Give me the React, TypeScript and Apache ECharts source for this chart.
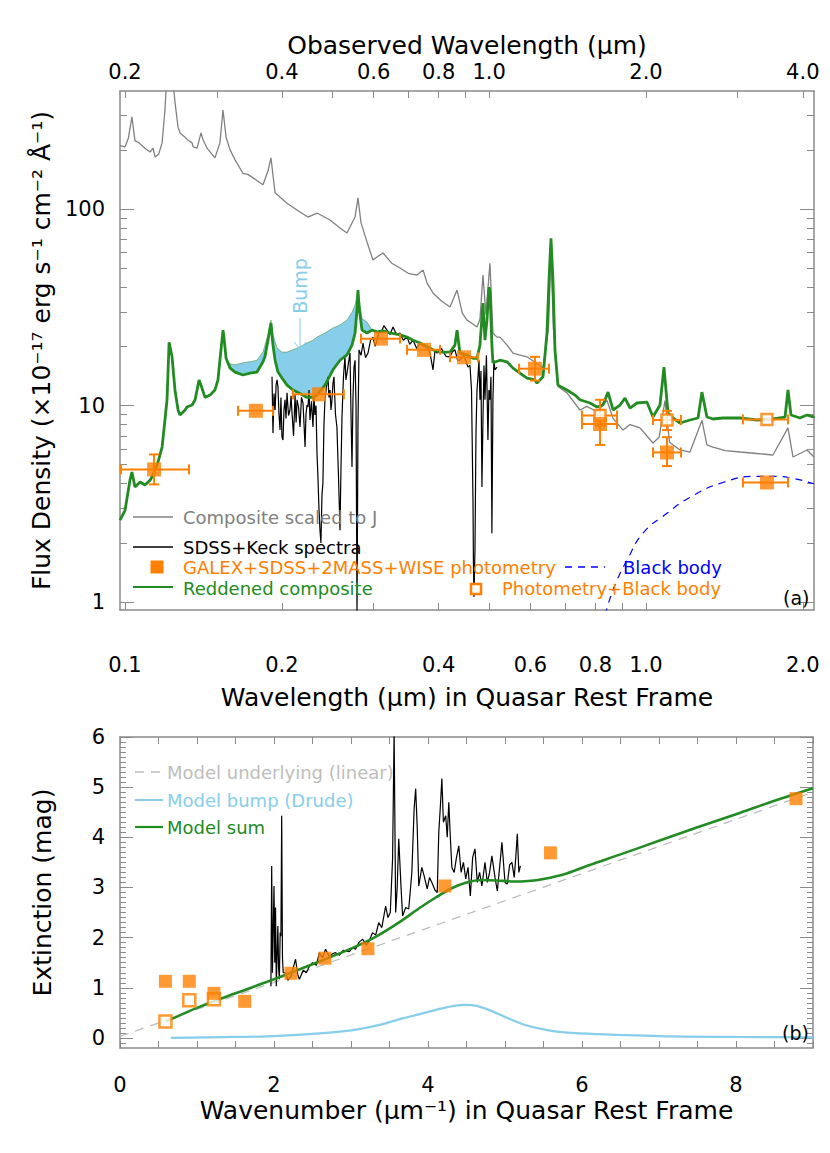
import React, { useEffect, useRef } from "react";
import * as echarts from "echarts";

// ---------------- Panel (a): spectra (rest wavelength in µm, flux in 1e-17 erg/s/cm2/Å) ----------------
const ONE_PLUS_Z = 2.0;

const compWave = [0.0978,0.1000,0.1015,0.1031,0.1045,0.1059,0.1092,0.1117,0.1132,0.1142,0.1160,0.1178,0.1193,0.1204,0.1215,0.1231,0.1247,0.1264,0.1275,0.1304,0.1315,0.1345,0.1351,0.1375,0.1399,0.1411,0.1437,0.1488,0.1521,0.1542,0.1563,0.1591,0.1626,0.1684,0.1720,0.1761,0.1840,0.1881,0.1906,0.1941,0.2046,0.2167,0.2245,0.2336,0.2474,0.2586,0.2667,0.2764,0.2800,0.2838,0.2914,0.2992,0.3046,0.3128,0.3250,0.3372,0.3500,0.3635,0.3733,0.3800,0.3901,0.4050,0.4206,0.4338,0.4440,0.4533,0.4655,0.4738,0.4801,0.4865,0.4930,0.5017,0.5084,0.5175,0.5244,0.5411,0.5556,0.5705,0.5910,0.6122,0.6343,0.6500,0.6571,0.6640,0.6777,0.7054,0.7468,0.7700,0.8055,0.8418,0.8645,0.9035,0.9319,0.9738,1.0314,1.0600,1.0876,1.1100,1.1622,1.2148,1.2806,1.3092,1.3445,1.4200,1.5149,1.6300,1.7528,1.8733,1.9152,2.0374,2.1015];
const compFlux = [210,207,230,294,222,219,204,195,204,184,190,217,319,500,620,500,350,261,244,232,226,217,207,204,244,226,204,182,217,319,232,200,178,152,150,144,133,156,182,121,107,96.5,91,95.4,87.9,80,75.5,91,114,85,68,55,57,59.7,53,50.1,47,46.1,48.9,42,37.4,34,31.7,38.7,29.5,27.2,26,25.1,27.5,46.1,29,53,23.4,22.3,22.3,20.3,18.5,18.1,17.7,16.6,15.5,25,60,25,12.5,11.6,9.49,9.9,9.3,10.6,8.6,7.5,8.0,7.7,6.45,6.9,10.6,6.5,5.94,5.8,8.4,6.3,6.15,5.9,5.8,5.7,5.6,7.7,5.47,5.94,5.47];

const redWave = [0.0978,0.1000,0.1022,0.1031,0.1045,0.1069,0.1092,0.1117,0.1132,0.1157,0.1178,0.1193,0.1204,0.1215,0.1231,0.1247,0.1264,0.1275,0.1304,0.1315,0.1345,0.1363,0.1387,0.1399,0.1424,0.1456,0.1488,0.1508,0.1521,0.1535,0.1542,0.1549,0.1563,0.1591,0.1626,0.1684,0.1738,0.1792,0.1840,0.1856,0.1881,0.1906,0.1923,0.1941,0.1966,0.2001,0.2046,0.2101,0.2167,0.2235,0.2295,0.2336,0.2420,0.2507,0.2586,0.2667,0.2727,0.2764,0.2788,0.2800,0.2813,0.2850,0.2914,0.2979,0.3046,0.3128,0.3226,0.3372,0.3478,0.3572,0.3684,0.3799,0.3901,0.4024,0.4206,0.4298,0.4338,0.4395,0.4533,0.4655,0.4738,0.4801,0.4865,0.4908,0.4952,0.4995,0.5017,0.5061,0.5084,0.5244,0.5411,0.5556,0.5731,0.5910,0.6122,0.6177,0.6343,0.6456,0.6513,0.6571,0.6630,0.6688,0.6777,0.7054,0.7307,0.7468,0.7806,0.8055,0.8269,0.8456,0.8645,0.8917,0.9115,0.9319,0.9610,1.0044,1.0314,1.0640,1.0828,1.1022,1.1269,1.1622,1.2148,1.2587,1.2806,1.3092,1.3445,1.4054,1.5149,1.6332,1.7528,1.8490,1.8733,1.8980,1.9750,2.0374,2.0922,2.1015];
const redFlux = [2.61,2.93,4.17,4.59,3.85,4.08,3.94,4.17,4.43,5.16,6.15,8.44,10.7,21.0,17.7,12.0,9.5,8.95,9.5,9.83,10.06,10.7,13.5,12.7,11.0,11.3,12.0,13.5,17.0,21.5,24.2,22.1,17.4,15.5,14.8,14.3,14.6,14.8,16.7,17.7,21.5,26.3,20.3,17.0,14.8,13.8,12.7,12.0,11.5,11.0,11.0,11.3,12.7,15.2,17.0,18.1,20.3,23.4,30.6,38.7,31.7,24.2,23.4,24.2,23.7,24.0,23.4,22.9,22.3,21.5,20.8,19.9,19.2,18.7,18.7,20.3,24.2,18.5,18.1,17.4,17.4,20.3,33.2,21.5,27.2,40.0,38.7,20.3,16.5,17.0,16.7,15.5,14.6,13.8,13.5,13.0,14.0,23.4,43.0,71.0,43.0,19.2,12.7,12.0,11.3,10.7,10.3,9.83,10.06,11.7,9.49,10.06,10.9,9.71,10.3,10.4,8.74,10.06,15.7,9.16,8.64,8.15,8.44,8.64,11.7,8.74,8.54,8.64,8.64,8.44,8.54,8.74,12.0,8.95,8.64,8.95,8.74,8.85];

const specWave = [0.1915,0.1923,0.1932,0.1941,0.1950,0.1958,0.1966,0.1975,0.1984,0.1992,0.2001,0.2010,0.2019,0.2028,0.2037,0.2046,0.2060,0.2073,0.2083,0.2092,0.2106,0.2120,0.2130,0.2139,0.2153,0.2167,0.2181,0.2196,0.2206,0.2216,0.2225,0.2235,0.2245,0.2255,0.2265,0.2280,0.2295,0.2305,0.2315,0.2326,0.2336,0.2346,0.2356,0.2367,0.2377,0.2388,0.2398,0.2409,0.2420,0.2436,0.2452,0.2463,0.2474,0.2485,0.2496,0.2507,0.2518,0.2535,0.2551,0.2568,0.2586,0.2598,0.2609,0.2626,0.2643,0.2655,0.2667,0.2685,0.2703,0.2715,0.2727,0.2739,0.2751,0.2764,0.2776,0.2788,0.2800,0.2813,0.2838,0.2863,0.2895,0.2927,0.2960,0.2992,0.3020,0.3046,0.3073,0.3100,0.3140,0.3183,0.3226,0.3269,0.3320,0.3372,0.3420,0.3478,0.3520,0.3572,0.3630,0.3684,0.3740,0.3799,0.3850,0.3901,0.3935,0.3971,0.4050,0.4130,0.4206,0.4250,0.4298,0.4350,0.4395,0.4470,0.4553,0.4594,0.4625,0.4655,0.4665,0.4675,0.4696,0.4717,0.4738,0.4759,0.4780,0.4801,0.4822,0.4843,0.4865,0.4887,0.4908,0.4940,0.4973,0.4995,0.5017,0.5040,0.5061,0.5084,0.5106,0.5129,0.5175];
const specFlux = [14.0,7.25,11.5,9.49,12.8,13.5,12.4,9.0,7.5,11.0,6.92,6.67,9.5,10.7,8.6,11.6,8.9,9.49,11.2,9.16,7.0,11.3,8.2,10.7,9.8,7.78,11.0,10.3,8.0,6.15,9.0,10.06,9.83,12.0,8.44,10.5,7.78,11.2,8.95,10.0,5.73,4.3,3.04,2.32,2.0,3.5,4.03,8.0,10.7,12.5,14.0,11.0,12.0,9.5,10.7,13.0,14.0,9.0,7.78,4.5,2.32,5.0,8.74,14.0,17.7,13.5,14.6,16.5,18.5,9.0,4.86,11.0,15.7,17.0,10.0,0.85,8.0,19.2,18.0,20.8,17.5,18.5,21.5,22.3,20.0,21.5,24.0,23.4,25.5,24.2,23.0,25.1,23.0,23.4,21.5,22.3,20.5,21.5,19.5,20.8,20.0,19.9,18.5,15.2,19.0,18.5,19.5,17.8,17.7,18.8,19.2,17.0,17.0,18.0,15.7,16.0,12.0,3.3,1.5,1.06,1.84,7.25,12.0,14.0,17.0,10.7,15.0,3.85,8.44,16.0,10.7,18.0,6.67,12.0,10.7,14.0,2.24,10.7,17.0,15.2,15.7];

// 2175 Å bump region: envelope without the bump (upper) and reddened composite (lower)
const bumpWave = [0.1577,0.1626,0.1684,0.1738,0.1792,0.1840,0.1881,0.1906,0.1923,0.1958,0.2001,0.2046,0.2101,0.2167,0.2235,0.2295,0.2336,0.2420,0.2507,0.2586,0.2667,0.2727,0.2764,0.2800,0.2850,0.2914,0.2979];
const bumpUpper = [16.4,16.1,16.5,16.7,17.0,18.7,22.9,27.2,22.9,19.6,18.7,18.7,19.2,19.9,20.8,21.5,22.3,23.4,24.8,25.7,27.2,29.8,32.4,38.7,27.7,26.6,24.2];
const bumpLower = [16.4,14.8,14.3,14.6,14.8,16.7,21.5,26.3,20.3,15.5,13.8,12.7,12.0,11.5,11.0,11.0,11.3,12.7,15.2,17.0,18.1,20.3,23.4,38.7,24.2,23.4,24.2];

const bbWave = [0.8000,0.8418,0.8799,0.9196,0.9868,1.0974,1.2148,1.4054,1.6332,1.7528,1.9152,2.0922,2.1015];
const bbFlux = [0.55,0.93,1.29,1.63,2.24,2.83,3.41,4.06,4.36,4.36,4.26,4.01,4.0];

const photWave = [0.1137,0.1783,0.2357,0.3100,0.3749,0.4474,0.6122,0.8163,1.0974,1.7069];
const photFlux = [4.73,9.4,11.4,21.9,19.2,17.6,15.4,8.05,5.77,4.06];
const photWaveLo = [0.0982,0.1648,0.2101,0.2837,0.3478,0.4206,0.5705,0.7534,1.0314,1.5351];
const photWaveHi = [0.1327,0.1923,0.2630,0.3372,0.4024,0.4759,0.6513,0.8799,1.1674,1.8733];
const photFluxLo = [3.97,9.4,11.4,21.9,19.2,17.6,13.4,6.3,4.92,4.06];
const photFluxHi = [5.64,9.4,11.4,21.9,19.2,17.6,17.7,9.5,6.9,4.06];

const openWave = [0.8163,1.0974,1.7069];
const openFlux = [8.9,8.44,8.5];
const openWaveLo = [0.7534,1.0314,1.5351];
const openWaveHi = [0.8799,1.1674,1.8733];
const openFluxLo = [7.9,7.5,8.5];
const openFluxHi = [10.7,9.4,8.5];

// axis ranges / ticks panel (a)
const restMin = 0.0978, restMax = 2.1015;
const fluxMin = 0.911, fluxMax = 398.6;
const restTicks = [0.1,0.2,0.3,0.4,0.5,0.6,0.7,0.8,0.9,1.0,2.0];
const restLabels = [0.1,0.2,0.4,0.6,0.8,1.0,2.0];
const obsTicks = [0.2,0.3,0.4,0.5,0.6,0.7,0.8,0.9,1.0,2.0,3.0,4.0];
const obsLabels = [0.2,0.4,0.6,0.8,1.0,2.0,4.0];
const fluxMajor = [1,10,100];
const fluxMinor = [2,3,4,5,6,7,8,9,20,30,40,50,60,70,80,90,200,300];

// ---------------- Panel (b): extinction curve ----------------
const extK = [1.96,1.97,1.98,2.0,2.01,2.02,2.03,2.05,2.06,2.07,2.08,2.09,2.10,2.11,2.12,2.15,2.18,2.22,2.25,2.28,2.31,2.33,2.38,2.42,2.46,2.5,2.55,2.59,2.63,2.67,2.72,2.76,2.80,2.85,2.9,2.93,2.98,3.02,3.06,3.1,3.15,3.2,3.24,3.28,3.32,3.36,3.4,3.45,3.48,3.51,3.54,3.56,3.58,3.6,3.62,3.65,3.67,3.71,3.75,3.79,3.82,3.84,3.86,3.88,3.92,3.95,3.99,4.02,4.05,4.09,4.12,4.14,4.16,4.18,4.2,4.23,4.25,4.27,4.29,4.31,4.34,4.37,4.4,4.43,4.46,4.49,4.52,4.55,4.58,4.61,4.64,4.67,4.70,4.74,4.77,4.80,4.83,4.87,4.9,4.93,4.96,5.0,5.03,5.06,5.09,5.12,5.14,5.16,5.18,5.20];
const extA = [1.03,3.43,1.3,3.03,1.5,2.6,1.03,2.23,1.4,1.17,2.1,2.03,4.43,1.6,1.3,1.3,1.15,1.23,1.4,1.57,1.25,1.17,1.35,1.3,1.43,1.5,1.45,1.7,1.6,1.77,1.62,1.68,1.7,1.65,1.75,1.73,1.72,1.8,1.77,1.9,1.97,1.85,1.95,2.1,2.05,2.3,2.2,2.63,2.4,2.5,3.57,6.1,2.5,3.0,3.97,3.0,2.43,2.6,2.57,3.3,4.57,4.97,4.2,3.03,3.4,3.23,2.97,3.2,3.1,2.95,2.9,4.1,4.6,5.17,4.3,4.43,4.0,4.7,4.0,3.4,3.3,3.6,3.83,3.3,3.5,3.17,3.4,2.83,3.6,3.77,3.1,3.3,3.03,3.5,3.1,3.3,3.63,3.2,2.93,3.4,3.9,3.1,3.07,3.45,3.5,3.2,3.6,4.07,3.3,3.43];

const linK = [0, 9.0];
const linA = [0.03, 4.9];

const drudeK = [0.66,1.5,1.9,2.4,2.76,3.0,3.19,3.4,3.62,3.85,4.05,4.27,4.46,4.6,4.79,5.0,5.22,5.44,5.65,5.87,6.3,7.16,8.0,9.0];
const drudeA = [0.0,0.02,0.03,0.07,0.11,0.15,0.2,0.27,0.37,0.46,0.54,0.62,0.66,0.65,0.56,0.42,0.28,0.19,0.13,0.1,0.07,0.03,0.02,0.01];

const sumK = [0.6,1.0,1.5,2.0,2.5,3.0,3.3,3.6,3.9,4.1,4.3,4.5,4.7,4.9,5.1,5.3,5.5,5.8,6.1,6.5,7.0,7.5,8.0,8.5,9.0];
const sumA = [0.33,0.6,0.89,1.17,1.47,1.78,2.0,2.28,2.6,2.8,2.98,3.1,3.15,3.14,3.12,3.13,3.17,3.28,3.45,3.66,3.93,4.2,4.46,4.73,4.98];

const extPhotK = [0.59,0.90,1.22,1.62,2.22,2.66,3.22,4.22,5.59,8.78];
const extPhotA = [1.13,1.13,0.89,0.73,1.29,1.59,1.78,3.03,3.69,4.77];
const extOpenK = [0.59,0.90,1.22];
const extOpenA = [0.33,0.75,0.77];

const extMajor = [0,1,2,3,4,5,6];
const extXLabels = [0,2,4,6,8];

// ---------------- styles ----------------
const FONT = "DejaVu Sans";
const ORANGE = "#ff8000";
const GREEN = "#228b22";
const SKY = "#87ceeb";
const GRAY = "#808080";
const LGRAY = "#bdbdbd";
const AXIS = "#8a8a8a";

const L = (v: number) => Math.log10(v);
const I = (v: number) => v;
const zip = (xs: number[], ys: number[], fx: (v: number) => number, fy: (v: number) => number) =>
  xs.map((x, i) => [fx(x), fy(ys[i])]);

function buildOption() {
  const axisLine = { show: true, onZero: false, lineStyle: { color: AXIS, width: 1.5 } };
  const noLine = { show: false, onZero: false };
  const tickStyle = { color: AXIS, width: 1 };
  const labelStyle = { color: "#000", fontSize: 21, fontFamily: FONT };
  const nameStyle = { color: "#000", fontSize: 25, fontFamily: FONT };

  const extMinor: number[] = [];
  for (let i = -1; i < 60; i++) {
    if (i % 10 !== 0) extMinor.push(i / 10);
  }

  const hiddenLabel = { show: false };

  const xAxis: any[] = [
    {
      gridIndex: 0, type: "value", position: "bottom", min: L(restMin), max: L(restMax),
      axisLine, splitLine: { show: false },
      axisTick: { inside: true, length: 7, lineStyle: tickStyle, customValues: restTicks.map(L) },
      axisLabel: { ...labelStyle, margin: 44, customValues: restLabels.map(L), formatter: (v: number) => Math.pow(10, v).toFixed(1) },
      name: "Wavelength (μm) in Quasar Rest Frame", nameLocation: "middle", nameGap: 75, nameTextStyle: nameStyle,
    },
    {
      gridIndex: 0, type: "value", position: "top", min: L(restMin * ONE_PLUS_Z), max: L(restMax * ONE_PLUS_Z),
      axisLine, splitLine: { show: false },
      axisTick: { inside: true, length: 7, lineStyle: tickStyle, customValues: obsTicks.map(L) },
      axisLabel: { ...labelStyle, margin: 9, customValues: obsLabels.map(L), formatter: (v: number) => Math.pow(10, v).toFixed(1) },
      name: "Obaserved Wavelength (μm)", nameLocation: "middle", nameGap: 33, nameTextStyle: nameStyle,
    },
    {
      gridIndex: 1, type: "value", position: "bottom", min: 0, max: 9, interval: 0.5,
      axisLine, splitLine: { show: false },
      axisTick: { inside: true, length: 7, lineStyle: tickStyle },
      axisLabel: { ...labelStyle, margin: 26, customValues: extXLabels, formatter: (v: number) => String(v) },
      name: "Wavenumber (μm⁻¹) in Quasar Rest Frame", nameLocation: "middle", nameGap: 50, nameTextStyle: nameStyle,
    },
    {
      gridIndex: 1, type: "value", position: "top", min: 0, max: 9, interval: 0.5,
      axisLine, splitLine: { show: false },
      axisTick: { inside: true, length: 7, lineStyle: tickStyle },
      axisLabel: hiddenLabel,
    },
  ];

  const yAxis: any[] = [
    {
      gridIndex: 0, type: "value", position: "left", min: L(fluxMin), max: L(fluxMax),
      axisLine, splitLine: { show: false },
      axisTick: { inside: true, length: 14, lineStyle: tickStyle, customValues: fluxMajor.map(L) },
      axisLabel: { ...labelStyle, margin: 15, customValues: fluxMajor.map(L), formatter: (v: number) => String(Math.round(Math.pow(10, v))) },
      name: "Flux Density (×10⁻¹⁷ erg s⁻¹ cm⁻² Å⁻¹)", nameLocation: "middle", nameGap: 65, nameTextStyle: nameStyle,
    },
    {
      gridIndex: 0, type: "value", position: "left", min: L(fluxMin), max: L(fluxMax),
      axisLine: noLine, splitLine: { show: false },
      axisTick: { inside: true, length: 7, lineStyle: tickStyle, customValues: fluxMinor.map(L) },
      axisLabel: hiddenLabel,
    },
    {
      gridIndex: 0, type: "value", position: "right", min: L(fluxMin), max: L(fluxMax),
      axisLine, splitLine: { show: false },
      axisTick: { inside: true, length: 14, lineStyle: tickStyle, customValues: fluxMajor.map(L) },
      axisLabel: hiddenLabel,
    },
    {
      gridIndex: 0, type: "value", position: "right", min: L(fluxMin), max: L(fluxMax),
      axisLine: noLine, splitLine: { show: false },
      axisTick: { inside: true, length: 7, lineStyle: tickStyle, customValues: fluxMinor.map(L) },
      axisLabel: hiddenLabel,
    },
    {
      gridIndex: 1, type: "value", position: "left", min: -0.2, max: 6,
      axisLine, splitLine: { show: false },
      axisTick: { inside: true, length: 13, lineStyle: tickStyle, customValues: extMajor },
      axisLabel: { ...labelStyle, margin: 15, customValues: extMajor, formatter: (v: number) => String(v) },
      name: "Extinction (mag)", nameLocation: "middle", nameGap: 65, nameTextStyle: nameStyle,
    },
    {
      gridIndex: 1, type: "value", position: "left", min: -0.2, max: 6,
      axisLine: noLine, splitLine: { show: false },
      axisTick: { inside: true, length: 6, lineStyle: tickStyle, customValues: extMinor },
      axisLabel: hiddenLabel,
    },
    {
      gridIndex: 1, type: "value", position: "right", min: -0.2, max: 6,
      axisLine, splitLine: { show: false },
      axisTick: { inside: true, length: 13, lineStyle: tickStyle, customValues: extMajor },
      axisLabel: hiddenLabel,
    },
    {
      gridIndex: 1, type: "value", position: "right", min: -0.2, max: 6,
      axisLine: noLine, splitLine: { show: false },
      axisTick: { inside: true, length: 6, lineStyle: tickStyle, customValues: extMinor },
      axisLabel: hiddenLabel,
    },
  ];

  const errRows = (w: number[], f: number[], wl: number[], wh: number[], fl: number[], fh: number[]) =>
    w.map((x, i) => [L(x), L(f[i]), L(wl[i]), L(wh[i]), L(fl[i]), L(fh[i])]);

  const errorBarSeries = (rows: number[][]) => ({
    type: "custom",
    xAxisIndex: 0,
    yAxisIndex: 0,
    data: rows,
    encode: { x: 0, y: 1 },
    silent: true,
    z: 5,
    renderItem: (_p: any, api: any) => {
      const x = api.value(0), y = api.value(1);
      const xl = api.value(2), xh = api.value(3), yl = api.value(4), yh = api.value(5);
      const a = api.coord([xl, y]);
      const b = api.coord([xh, y]);
      const st = { stroke: ORANGE, lineWidth: 2 };
      const cap = 5;
      const children: any[] = [
        { type: "line", shape: { x1: a[0], y1: a[1], x2: b[0], y2: b[1] }, style: st },
        { type: "line", shape: { x1: a[0], y1: a[1] - cap, x2: a[0], y2: a[1] + cap }, style: st },
        { type: "line", shape: { x1: b[0], y1: b[1] - cap, x2: b[0], y2: b[1] + cap }, style: st },
      ];
      if (yh - yl > 1e-6) {
        const c = api.coord([x, yl]);
        const d = api.coord([x, yh]);
        children.push(
          { type: "line", shape: { x1: c[0], y1: c[1], x2: d[0], y2: d[1] }, style: st },
          { type: "line", shape: { x1: c[0] - cap, y1: c[1], x2: c[0] + cap, y2: c[1] }, style: st },
          { type: "line", shape: { x1: d[0] - cap, y1: d[1], x2: d[0] + cap, y2: d[1] }, style: st },
        );
      }
      return { type: "group", children };
    },
  });

  const bumpRows = bumpWave.map((w, i) => [L(w), L(bumpLower[i]), L(bumpUpper[i])]);

  const series: any[] = [
    // panel (a)
    {
      type: "line", name: "Composite scaled to J", xAxisIndex: 0, yAxisIndex: 0,
      data: zip(compWave, compFlux, L, L), showSymbol: false, symbol: "none",
      lineStyle: { color: GRAY, width: 1.3 }, z: 2,
    },
    {
      type: "custom", name: "Bump", xAxisIndex: 0, yAxisIndex: 0,
      data: bumpRows, encode: { x: 0, y: [1, 2] }, silent: true, z: 2,
      renderItem: (params: any, api: any) => {
        if (params.dataIndex !== 0) return null;
        const up = bumpRows.map((r) => api.coord([r[0], r[2]]));
        const lo = bumpRows.map((r) => api.coord([r[0], r[1]])).reverse();
        return {
          type: "polygon",
          shape: { points: up.concat(lo) },
          style: { fill: SKY, stroke: "#5aa05f", lineWidth: 0.7 },
        };
      },
    },
    {
      type: "line", name: "SDSS+Keck spectra", xAxisIndex: 0, yAxisIndex: 0,
      data: zip(specWave, specFlux, L, L), showSymbol: false, symbol: "none",
      lineStyle: { color: "#000", width: 1.2 }, z: 3,
    },
    {
      type: "line", name: "Reddened composite", xAxisIndex: 0, yAxisIndex: 0,
      data: zip(redWave, redFlux, L, L), showSymbol: false, symbol: "none",
      lineStyle: { color: GREEN, width: 2.8 }, z: 4,
    },
    {
      type: "line", name: "Black body", xAxisIndex: 0, yAxisIndex: 0,
      data: zip(bbWave, bbFlux, L, L), showSymbol: false, symbol: "none", smooth: true,
      lineStyle: { color: "#0000ff", width: 1.2, type: [7, 6] }, z: 4,
    },
    errorBarSeries(errRows(openWave, openFlux, openWaveLo, openWaveHi, openFluxLo, openFluxHi)),
    errorBarSeries(errRows(photWave, photFlux, photWaveLo, photWaveHi, photFluxLo, photFluxHi)),
    {
      type: "scatter", name: "Photometry+Black body", xAxisIndex: 0, yAxisIndex: 0,
      data: zip(openWave, openFlux, L, L), symbol: "rect", symbolSize: 11,
      itemStyle: { color: "#ffffff", borderColor: ORANGE, borderWidth: 2.5 }, z: 6,
    },
    {
      type: "scatter", name: "GALEX+SDSS+2MASS+WISE photometry", xAxisIndex: 0, yAxisIndex: 0,
      data: zip(photWave, photFlux, L, L), symbol: "rect", symbolSize: 14,
      itemStyle: { color: ORANGE }, z: 7,
    },
    // panel (b)
    {
      type: "line", name: "Model underlying (linear)", xAxisIndex: 2, yAxisIndex: 4,
      data: zip(linK, linA, I, I), showSymbol: false, symbol: "none",
      lineStyle: { color: LGRAY, width: 1.3, type: [9, 7] }, z: 2,
    },
    {
      type: "line", name: "Model bump (Drude)", xAxisIndex: 2, yAxisIndex: 4,
      data: zip(drudeK, drudeA, I, I), showSymbol: false, symbol: "none", smooth: 0.3,
      lineStyle: { color: SKY, width: 2.2 }, z: 2,
    },
    {
      type: "line", name: "Extinction data", xAxisIndex: 2, yAxisIndex: 4,
      data: zip(extK, extA, I, I), showSymbol: false, symbol: "none",
      lineStyle: { color: "#000", width: 1.2 }, z: 3,
    },
    {
      type: "line", name: "Model sum", xAxisIndex: 2, yAxisIndex: 4,
      data: zip(sumK, sumA, I, I), showSymbol: false, symbol: "none", smooth: 0.3,
      lineStyle: { color: GREEN, width: 2.6 }, z: 4,
    },
    {
      type: "scatter", name: "Extinction open", xAxisIndex: 2, yAxisIndex: 4,
      data: zip(extOpenK, extOpenA, I, I), symbol: "rect", symbolSize: 12,
      itemStyle: { color: "#ffffff", borderColor: ORANGE, borderWidth: 2.5 }, z: 6,
    },
    {
      type: "scatter", name: "Extinction photometry", xAxisIndex: 2, yAxisIndex: 4,
      data: zip(extPhotK, extPhotA, I, I), symbol: "rect", symbolSize: 13,
      itemStyle: { color: ORANGE }, z: 7,
    },
  ];

  const font = (s: number) => `${s}px "${FONT}"`;
  const txt = (x: number, y: number, text: string, fill: string, size = 18, align = "left") => ({
    type: "text", x, y, z: 100,
    style: { text, fill, font: font(size), textAlign: align, textVerticalAlign: "middle" },
  });
  const seg = (x1: number, y1: number, x2: number, y2: number, stroke: string, w: number, dash?: number[]) => ({
    type: "line", z: 100, shape: { x1, y1, x2, y2 },
    style: { stroke, lineWidth: w, lineDash: dash },
  });

  const graphic: any[] = [
    // legend (a)
    seg(133, 517, 173, 517, GRAY, 1.3), txt(183, 517, "Composite scaled to J", GRAY),
    seg(133, 547, 173, 547, "#000", 1.3), txt(183, 547, "SDSS+Keck spectra", "#000"),
    { type: "rect", z: 100, shape: { x: 150.5, y: 560.5, width: 13, height: 13 }, style: { fill: ORANGE } },
    txt(183, 567, "GALEX+SDSS+2MASS+WISE photometry", ORANGE),
    seg(133, 587, 173, 587, GREEN, 2.2), txt(183, 588, "Reddened composite", GREEN),
    seg(565, 567, 605, 567, "#0000ff", 1.3, [7, 6]), txt(623, 567, "Black body", "#0000ff"),
    { type: "rect", z: 100, shape: { x: 471, y: 584, width: 10, height: 10 }, style: { fill: "#fff", stroke: ORANGE, lineWidth: 2.5 } },
    txt(502, 588, "Photometry+Black body", ORANGE),
    txt(783, 598, "(a)", "#000", 19),
    // bump annotation
    { type: "text", x: 300, y: 286, rotation: Math.PI / 2, z: 100, style: { text: "Bump", fill: SKY, font: font(19), textAlign: "center", textVerticalAlign: "middle" } },
    seg(300, 318, 300, 349, SKY, 1),
    seg(294, 342, 300, 349, SKY, 1),
    seg(306, 342, 300, 349, SKY, 1),
    // legend (b)
    seg(135, 772, 165, 772, LGRAY, 1.3, [9, 7]), txt(167, 772, "Model underlying (linear)", LGRAY),
    seg(135, 800, 163, 800, SKY, 2), txt(167, 800, "Model bump (Drude)", SKY),
    seg(135, 827, 163, 827, GREEN, 2.2), txt(167, 827, "Model sum", GREEN),
    txt(782, 1033, "(b)", "#000", 19),
  ];

  return {
    animation: false,
    backgroundColor: "#ffffff",
    textStyle: { fontFamily: FONT },
    grid: [
      { left: 120, top: 91, width: 694, height: 519, containLabel: false },
      { left: 120, top: 737, width: 693, height: 311, containLabel: false },
    ],
    xAxis,
    yAxis,
    series,
    graphic,
  };
}

export default function App() {
  const ref = useRef<HTMLDivElement>(null);
  useEffect(() => {
    if (!ref.current) return;
    const chart = echarts.init(ref.current, null, { renderer: "svg" });
    chart.setOption(buildOption() as any);
    return () => chart.dispose();
  }, []);
  return (
    <div
      ref={ref}
      style={{ position: "absolute", left: 0, top: 0, width: 830, height: 1153, background: "#fff" }}
    />
  );
}
